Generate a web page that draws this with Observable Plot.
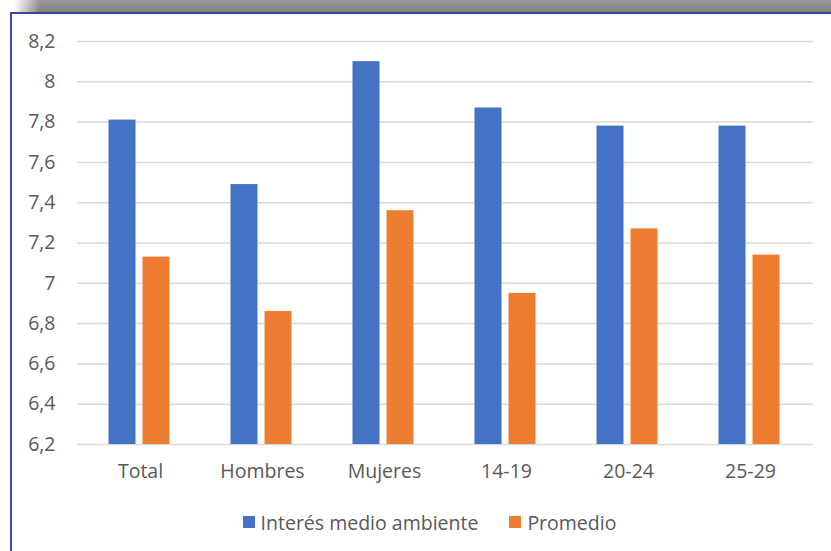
<!DOCTYPE html>
<html>
<head>
<meta charset="utf-8">
<script src="https://cdn.jsdelivr.net/npm/d3@7"></script>
<script src="https://cdn.jsdelivr.net/npm/@observablehq/plot@0.6"></script>
<style>
  html, body { margin: 0; padding: 0; background: #fff; width: 831px; height: 551px; overflow: hidden; }
  #shadow { position: absolute; left: 0; top: 0; width: 831px; height: 13px;
    background: linear-gradient(to right, #ffffff 0px, #ffffff 14px, rgba(255,255,255,0) 40px),
                linear-gradient(to bottom, #9a9a9a, #7f7f7f); }
  #frame { position: absolute; left: 10px; top: 12px; width: 900px; height: 600px;
    border-left: 2px solid #3f4fb0; border-top: 2px solid #3a4890; box-sizing: border-box; }
  #chart { position: absolute; left: 0; top: 0; }
  #legend { position: absolute; left: 14px; top: 505px; width: 831px; height: 34px;
    display: flex; justify-content: center; align-items: center; gap: 31px;
    font-family: "Open Sans", sans-serif; font-size: 19.5px; color: #595959; }
  .item { display: flex; align-items: center; gap: 6px; }
  .sw { width: 12px; height: 12px; display: inline-block; }
</style>
</head>
<body>
<div id="shadow"></div>
<div id="frame"></div>
<div id="chart"></div>
<div id="legend"></div>
<script>
const categories = ["Total", "Hombres", "Mujeres", "14-19", "20-24", "25-29"];
const interes = [7.81, 7.49, 8.10, 7.87, 7.78, 7.78];
const promedio = [7.13, 6.86, 7.36, 6.95, 7.27, 7.14];
const seriesNames = ["Interés medio ambiente", "Promedio"];
const seriesColors = ["#4472C4", "#ED7D31"];
const yDomain = [6.2, 8.2];
const yTicks = [6.2, 6.4, 6.6, 6.8, 7.0, 7.2, 7.4, 7.6, 7.8, 8.0, 8.2];

const dataA = categories.map((c, i) => ({category: c, value: interes[i]}));
const dataB = categories.map((c, i) => ({category: c, value: promedio[i]}));

const fmt = d => String(+d.toFixed(1)).replace(".", ",");

const plot = Plot.plot({
  width: 831,
  height: 495,
  marginTop: 41,
  marginBottom: 51,
  marginLeft: 77,
  marginRight: 18,
  style: { fontFamily: "'Open Sans', sans-serif", fontSize: "19.5px", color: "#595959", background: "transparent" },
  x: { domain: categories, padding: 0, label: null },
  y: { domain: yDomain, label: null },
  marks: [
    Plot.ruleY(yTicks, { stroke: "#d9d9d9", strokeWidth: 1.5 }),
    Plot.barY(dataA, { x: "category", y1: yDomain[0], y2: "value", fill: seriesColors[0],
      insetLeft: 47.5, insetRight: 47.5, dx: -18 }),
    Plot.barY(dataB, { x: "category", y1: yDomain[0], y2: "value", fill: seriesColors[1],
      insetLeft: 47.5, insetRight: 47.5, dx: 16 }),
    Plot.axisY({ ticks: yTicks, tickFormat: fmt, tickSize: 0, tickPadding: 22, label: null, fill: "#595959" }),
    Plot.axisX({ tickSize: 0, tickPadding: 20, label: null, fill: "#595959" })
  ]
});
document.getElementById("chart").appendChild(plot);

const legend = document.getElementById("legend");
seriesNames.forEach((name, i) => {
  const item = document.createElement("div");
  item.className = "item";
  const sw = document.createElement("span");
  sw.className = "sw";
  sw.style.background = seriesColors[i];
  const t = document.createElement("span");
  t.textContent = name;
  item.appendChild(sw);
  item.appendChild(t);
  legend.appendChild(item);
});
</script>
</body>
</html>
